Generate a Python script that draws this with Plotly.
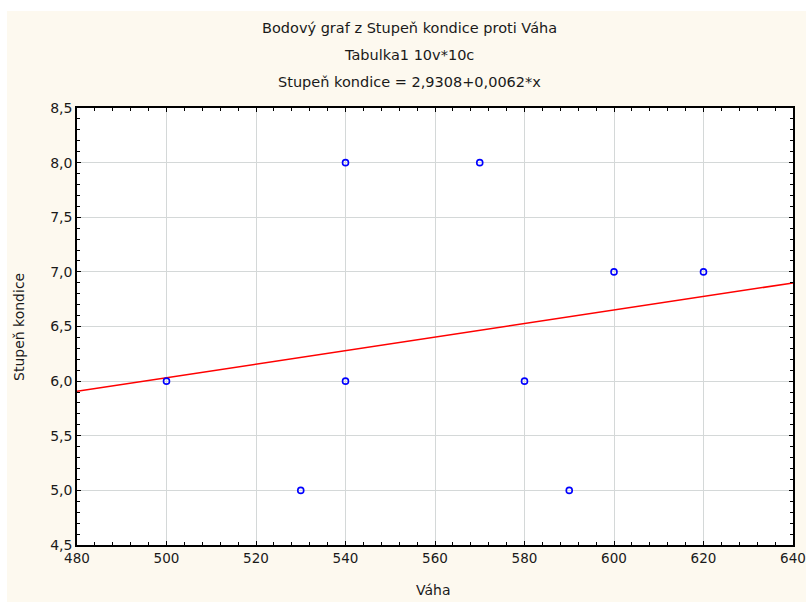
import plotly.graph_objects as go

# Data
vaha = [500, 530, 540, 540, 570, 580, 590, 600, 620]
stupen = [6, 5, 8, 6, 8, 6, 5, 7, 7]
intercept = 2.9308
slope = 0.0062
fit_x = [480, 640]
fit_y = [intercept + slope * v for v in fit_x]

x_ticks = [480, 500, 520, 540, 560, 580, 600, 620, 640]
y_ticks = [4.5, 5.0, 5.5, 6.0, 6.5, 7.0, 7.5, 8.0, 8.5]

title_lines = ["Bodový graf z Stupeň kondice proti Váha",
               "Tabulka1 10v*10c",
               "Stupeň kondice = 2,9308+0,0062*x"]

FONT = "DejaVu Sans"
TXT = "#1a1a1a"
W, H = 806, 602
L, R, T, B = 77, 793, 108, 545

def px(x):
    return (x - L) / (R - L)

def py(y):
    return (B - y) / (B - T)

fig = go.Figure()
fig.add_trace(go.Scatter(x=fit_x, y=fit_y, mode="lines",
                         line=dict(color="#ff0000", width=1.5),
                         hoverinfo="skip", showlegend=False))
fig.add_trace(go.Scatter(x=vaha, y=stupen, mode="markers",
                         marker=dict(symbol="circle-open", size=6, color="#0000ff",
                                     line=dict(width=1.6, color="#0000ff")),
                         showlegend=False))

axis_common = dict(showline=True, linecolor="black", linewidth=1.5, mirror="ticks",
                   ticks="inside", ticklen=4, tickcolor="black", tickwidth=1,
                   showgrid=True, gridcolor="#d4d8d8", gridwidth=1, zeroline=False,
                   automargin=False, ticklabeloverflow="allow")

fig.update_xaxes(range=[480, 640], tickvals=x_ticks,
                 ticktext=[str(v) for v in x_ticks],
                 tickfont=dict(family=FONT, size=13.5, color=TXT),
                 minor=dict(dtick=4, tick0=480, ticks="inside", ticklen=3,
                            tickcolor="black", showgrid=False),
                 **axis_common)
fig.update_yaxes(range=[4.5, 8.5], tickvals=y_ticks,
                 ticktext=[f"{v:.1f}".replace(".", ",") for v in y_ticks],
                 tickfont=dict(family=FONT, size=14, color=TXT),
                 minor=dict(dtick=0.1, tick0=4.5, ticks="inside", ticklen=3,
                            tickcolor="black", showgrid=False),
                 **axis_common)

annotations = []
for txt, yy in zip(title_lines, [28, 55, 82]):
    annotations.append(dict(text=txt, xref="paper", yref="paper", x=px(409), y=py(yy),
                            xanchor="center", yanchor="middle", showarrow=False,
                            font=dict(family=FONT, size=14.5, color=TXT)))
annotations.append(dict(text="Váha", xref="paper", yref="paper", x=px(433), y=py(590),
                        xanchor="center", yanchor="middle", showarrow=False,
                        font=dict(family=FONT, size=14, color=TXT)))
annotations.append(dict(text="Stupeň kondice", xref="paper", yref="paper", x=px(19), y=py(327),
                        xanchor="center", yanchor="middle", showarrow=False, textangle=-90,
                        font=dict(family=FONT, size=14, color=TXT)))

shapes = [
    dict(type="rect", xref="paper", yref="paper", x0=px(-5), x1=px(W + 5), y0=py(11), y1=py(-5),
         fillcolor="white", line=dict(width=0), layer="below"),
    dict(type="rect", xref="paper", yref="paper", x0=px(-5), x1=px(7), y0=py(H + 5), y1=py(-5),
         fillcolor="white", line=dict(width=0), layer="below"),
]

fig.update_layout(width=W, height=H, autosize=False,
                  margin=dict(l=L, r=W - R, t=T, b=H - B, pad=0, autoexpand=False),
                  paper_bgcolor="#fdf9ef", plot_bgcolor="white",
                  separators=", ",
                  annotations=annotations, shapes=shapes,
                  font=dict(family=FONT, size=14, color=TXT))

fig.write_html("out.html", config={"displayModeBar": False, "responsive": False},
               post_script="document.body.style.margin='0px';document.body.style.padding='0px';document.body.style.overflow='hidden';")
